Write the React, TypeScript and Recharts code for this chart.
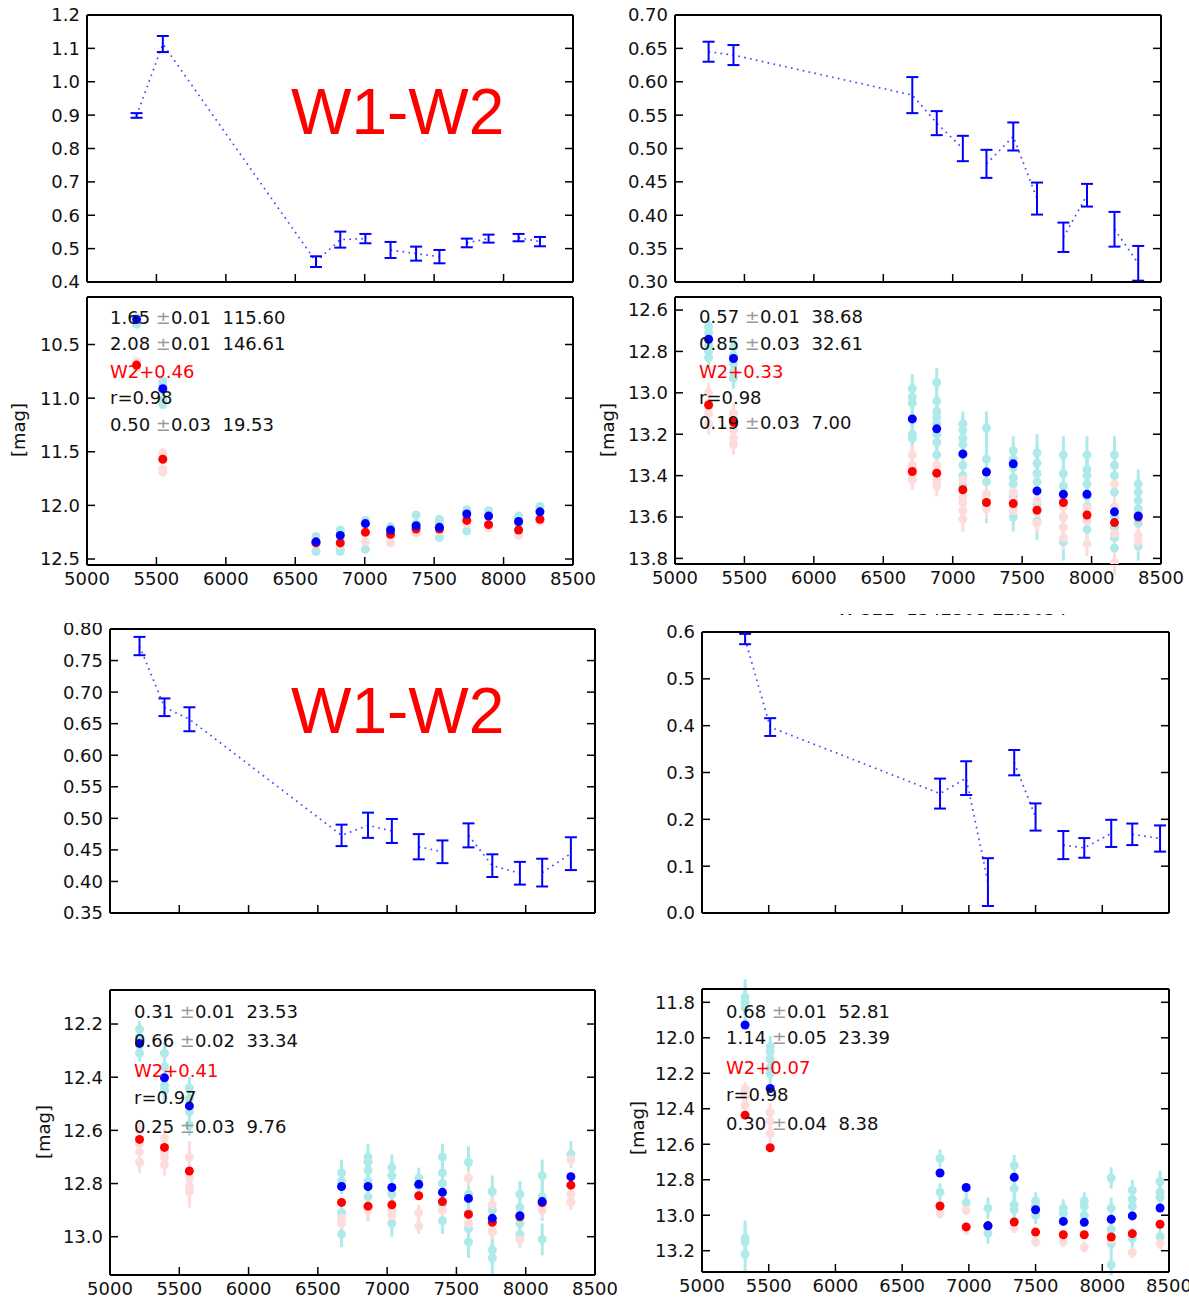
import React from 'react';
import { ComposedChart, Scatter, Line, XAxis, YAxis, ErrorBar } from 'recharts';

const FONT = '"DejaVu Sans", sans-serif';
const CYAN = '#afeaea';
const PINK = '#fddcdc';
const BLUE = '#0000ff';
const RED = '#ff0000';

const xTicks = [5000, 5500, 6000, 6500, 7000, 7500, 8000, 8500];

// upper figure, left column (panels 1 & 2)
const epochsA = [5357, 5546, 6649, 6824, 7005, 7186, 7370, 7538, 7735, 7892, 8108, 8262];
const p1Color = [0.899, 1.113, 0.461, 0.527, 0.53, 0.496, 0.485, 0.476, 0.517, 0.53, 0.533, 0.521];
const p1Err = [0.007, 0.024, 0.016, 0.024, 0.014, 0.024, 0.021, 0.02, 0.013, 0.012, 0.011, 0.014];
const p1Seg = [0, 0, 0, 0, 0, 1, 1, 1, 2, 2, 3, 3];
const p1YTicks = [0.4, 0.5, 0.6, 0.7, 0.8, 0.9, 1.0, 1.1, 1.2];

const p2W1 = [10.267, 10.912, 12.34, 12.28, 12.17, 12.23, 12.19, 12.205, 12.08, 12.1, 12.15, 12.06];
const p2W2 = [10.692, 11.57, 12.35, 12.35, 12.25, 12.27, 12.22, 12.22, 12.14, 12.18, 12.23, 12.13];
const p2W1Pts = [
  [10.25, 10.28, 10.31], [10.84, 10.88, 10.93, 11.02, 11.06], [12.29, 12.32, 12.36, 12.43],
  [12.23, 12.26, 12.41, 12.43], [12.14, 12.16, 12.41], [12.2, 12.23, 12.26], [12.09, 12.17, 12.2],
  [12.13, 12.16, 12.3], [12.04, 12.06, 12.24], [12.05, 12.07, 12.18], [12.1, 12.12, 12.17], [12.01, 12.04],
];
const p2W2Pts = [
  [10.66, 10.7, 10.72], [11.51, 11.55, 11.66, 11.69], [12.33, 12.36], [12.33, 12.37], [12.26, 12.34],
  [12.29, 12.35], [12.24, 12.26], [12.21, 12.24], [12.15, 12.17], [12.19, 12.21], [12.25, 12.28], [12.12, 12.15],
];
const p2W1Err = [0.02, 0.03, 0.03, 0.03, 0.03, 0.02, 0.03, 0.03, 0.03, 0.02, 0.02, 0.02];
const p2W2Err = [0.02, 0.04, 0.03, 0.03, 0.03, 0.03, 0.03, 0.03, 0.02, 0.02, 0.02, 0.02];
const p2YTicks = [10.5, 11.0, 11.5, 12.0, 12.5];
const p2Notes = ['1.65 ±0.01  115.60', '2.08 ±0.01  146.61', 'W2+0.46', 'r=0.98', '0.50 ±0.03  19.53'];

// upper figure, right column (panels 3 & 4)
const epochsB = [5242, 5421, 6709, 6885, 7073, 7243, 7436, 7607, 7797, 7967, 8165, 8336];
const p3Color = [0.645, 0.64, 0.58, 0.538, 0.5, 0.477, 0.518, 0.425, 0.367, 0.43, 0.379, 0.328];
const p3Err = [0.015, 0.015, 0.027, 0.018, 0.019, 0.021, 0.021, 0.024, 0.022, 0.017, 0.026, 0.026];
const p3Seg = [0, 0, 0, 0, 0, 1, 1, 1, 2, 2, 3, 3];
const p3YTicks = [0.3, 0.35, 0.4, 0.45, 0.5, 0.55, 0.6, 0.65, 0.7];

const p4W1 = [12.741, 12.834, 13.126, 13.174, 13.295, 13.383, 13.343, 13.474, 13.49, 13.49, 13.575, 13.595];
const p4W2 = [13.059, 13.142, 13.38, 13.388, 13.468, 13.53, 13.535, 13.567, 13.53, 13.59, 13.627, 13.6];
const p4W1Pts = [
  [12.68, 12.71, 12.74, 12.77, 12.8, 12.83], [12.78, 12.82, 12.86, 12.9, 12.93],
  [12.98, 13.02, 13.05, 13.13, 13.2, 13.22], [12.95, 13.04, 13.09, 13.12, 13.15, 13.2, 13.24, 13.3],
  [13.15, 13.18, 13.22, 13.25, 13.3, 13.35, 13.4, 13.45], [13.17, 13.32, 13.38, 13.43, 13.49, 13.55],
  [13.28, 13.32, 13.36, 13.41, 13.44, 13.5, 13.55, 13.6], [13.29, 13.34, 13.39, 13.43, 13.54, 13.62],
  [13.3, 13.39, 13.45, 13.6, 13.72], [13.3, 13.37, 13.4, 13.44, 13.5, 13.55, 13.66],
  [13.3, 13.35, 13.4, 13.48, 13.6, 13.65, 13.7, 13.75], [13.44, 13.48, 13.52, 13.56, 13.63, 13.74],
];
const p4W2Pts = [
  [13.0, 13.05, 13.1, 13.15], [13.1, 13.14, 13.18, 13.22, 13.25], [13.3, 13.35, 13.4, 13.42],
  [13.35, 13.38, 13.42, 13.45], [13.42, 13.5, 13.53, 13.57, 13.61], [13.49, 13.52, 13.56],
  [13.48, 13.52, 13.57], [13.52, 13.58, 13.63], [13.55, 13.6, 13.65, 13.7], [13.56, 13.62, 13.73],
  [13.44, 13.55, 13.68, 13.82], [13.69, 13.72],
];
const p4W1Err = [0.04, 0.05, 0.07, 0.07, 0.06, 0.08, 0.07, 0.09, 0.09, 0.09, 0.09, 0.07];
const p4W2Err = [0.05, 0.05, 0.05, 0.05, 0.06, 0.05, 0.05, 0.05, 0.06, 0.06, 0.06, 0.05];
const p4YTicks = [12.6, 12.8, 13.0, 13.2, 13.4, 13.6, 13.8];
const p4Notes = ['0.57 ±0.01  38.68', '0.85 ±0.03  32.61', 'W2+0.33', 'r=0.98', '0.19 ±0.03  7.00'];

// lower figure, left column (panels 5 & 7)
const epochsC = [5213, 5393, 5573, 6671, 6862, 7034, 7228, 7399, 7587, 7759, 7958, 8119, 8326];
const p5Color = [0.773, 0.676, 0.657, 0.473, 0.489, 0.48, 0.455, 0.447, 0.473, 0.425, 0.413, 0.414, 0.444];
const p5Err = [0.0145, 0.014, 0.019, 0.017, 0.02, 0.019, 0.02, 0.018, 0.019, 0.018, 0.018, 0.022, 0.026];
const p5Seg = [0, 0, 0, 0, 0, 0, 1, 1, 2, 2, 2, 3, 3];
const p5YTicks = [0.35, 0.4, 0.45, 0.5, 0.55, 0.6, 0.65, 0.7, 0.75, 0.8];

const p7W1 = [12.273, 12.402, 12.508, 12.811, 12.811, 12.815, 12.803, 12.833, 12.856, 12.931, 12.921, 12.868, 12.774];
const p7W2 = [12.634, 12.664, 12.753, 12.871, 12.885, 12.88, 12.846, 12.868, 12.916, 12.946, 12.925, 12.872, 12.806];
const p7W1Pts = [
  [12.22, 12.25, 12.28, 12.31], [12.31, 12.36, 12.43, 12.45], [12.44, 12.48, 12.53, 12.58],
  [12.76, 12.79, 12.91, 12.99], [12.7, 12.72, 12.75, 12.79, 12.85, 12.89], [12.74, 12.77, 12.84, 12.95],
  [12.78, 12.81], [12.7, 12.76, 12.8, 12.88, 12.94], [12.72, 12.84, 12.91, 12.97, 13.02],
  [12.83, 12.9, 12.98, 13.05, 13.08], [12.84, 12.89, 12.95, 12.99], [12.77, 12.85, 12.88, 13.01], [12.69],
];
const p7W2Pts = [
  [12.6, 12.65, 12.68, 12.72], [12.63, 12.68, 12.7, 12.73], [12.7, 12.78, 12.81, 12.83], [12.93, 12.95],
  [12.9], [12.9, 12.92], [12.91, 12.96], [12.9], [12.78, 12.95], [12.88, 12.98], [13.01], [12.9],
  [12.71, 12.84, 12.87],
];
const p7W1Err = [0.03, 0.04, 0.04, 0.05, 0.05, 0.05, 0.04, 0.05, 0.06, 0.06, 0.05, 0.06, 0.05];
const p7W2Err = [0.04, 0.04, 0.06, 0.03, 0.03, 0.03, 0.03, 0.03, 0.03, 0.03, 0.03, 0.03, 0.03];
const p7YTicks = [12.2, 12.4, 12.6, 12.8, 13.0];
const p7Notes = ['0.31 ±0.01  23.53', '0.66 ±0.02  33.34', 'W2+0.41', 'r=0.97', '0.25 ±0.03  9.76'];

// lower figure, right column (panels 6 & 8)
const epochsD = [5323, 5511, 6784, 6980, 7143, 7340, 7500, 7708, 7865, 8067, 8225, 8433];
const p6Color = [0.585, 0.397, 0.255, 0.288, 0.066, 0.321, 0.205, 0.145, 0.139, 0.17, 0.168, 0.159];
const p6Err = [0.011, 0.019, 0.032, 0.036, 0.051, 0.027, 0.029, 0.03, 0.021, 0.029, 0.023, 0.028];
const p6Seg = [0, 0, 0, 0, 0, 1, 1, 2, 2, 2, 3, 3];
const p6YTicks = [0.0, 0.1, 0.2, 0.3, 0.4, 0.5, 0.6];

const p8W1 = [11.928, 12.286, 12.762, 12.844, 13.06, 12.786, 12.969, 13.035, 13.04, 13.023, 13.004, 12.959];
const p8W2 = [12.436, 12.62, 12.948, 13.066, 13.06, 13.038, 13.095, 13.11, 13.11, 13.123, 13.104, 13.051];
const p8W1Pts = [
  [11.77, 11.8, 11.83, 13.13, 13.15, 13.22], [12.05, 12.08, 12.12, 12.17, 12.2], [12.68, 12.87], [12.93],
  [12.96, 13.1], [12.72, 12.85, 12.94, 12.97], [12.92, 12.95, 13.0], [12.96, 12.99], [12.92, 12.95, 13.0],
  [12.79, 12.96, 13.08, 13.16, 13.28], [12.86, 12.91, 12.95, 13.13], [12.81, 12.87, 12.9, 13.12],
];
const p8W2Pts = [
  [12.29, 12.33, 12.38], [12.42, 12.47, 12.54], [12.99], [12.97, 13.08], [13.06], [13.07], [13.15],
  [13.15], [13.18], [13.14], [13.21], [13.16],
];
const p8W1Err = [0.1, 0.06, 0.05, 0.06, 0.06, 0.06, 0.05, 0.05, 0.05, 0.06, 0.06, 0.06];
const p8W2Err = [0.04, 0.05, 0.03, 0.03, 0.03, 0.03, 0.03, 0.03, 0.03, 0.03, 0.03, 0.03];
const p8YTicks = [11.8, 12.0, 12.2, 12.4, 12.6, 12.8, 13.0, 13.2];
const p8Notes = ['0.68 ±0.01  52.81', '1.14 ±0.05  23.39', 'W2+0.07', 'r=0.98', '0.30 ±0.04  8.38'];

type Pt = { x: number; y: number; e: number };

const toPoints = (xs: number[], ys: number[], errs?: number[]): Pt[] =>
  xs.map((x, i) => ({ x, y: ys[i], e: errs ? errs[i] : 0 }));

const explode = (xs: number[], pts: number[][], errs: number[]): Pt[] =>
  xs.flatMap((x, i) => pts[i].map((y) => ({ x, y, e: errs[i] })));

const splitSegments = (xs: number[], ys: number[], seg: number[]) => {
  const out: { x: number; y: number }[][] = [];
  xs.forEach((x, i) => {
    if (!out[seg[i]]) out[seg[i]] = [];
    out[seg[i]].push({ x, y: ys[i] });
  });
  return out;
};

const dot = (r: number, fill: string) => (p: any) => <circle cx={p.cx} cy={p.cy} r={r} fill={fill} />;
// empty tick label: keeps the tick marks, drops the text
const noLabel = () => <g />;

const colorMarks = (xs: number[], ys: number[], errs: number[], seg: number[]) => [
  ...splitSegments(xs, ys, seg).map((d, i) => (
    <Line
      key={`seg-${i}`}
      data={d}
      dataKey="y"
      type="linear"
      stroke="#4a4aff"
      strokeWidth={1.7}
      strokeDasharray="1.7 4.3"
      dot={false}
      activeDot={false}
      isAnimationActive={false}
    />
  )),
  <Scatter key="bars" data={toPoints(xs, ys, errs)} shape={() => <g />} isAnimationActive={false}>
    <ErrorBar dataKey="e" direction="y" width={6} stroke={BLUE} strokeWidth={2} />
  </Scatter>,
];

const magMarks = (
  xs: number[], w1: number[], w2: number[], w1Pts: number[][], w2Pts: number[][], w1Err: number[], w2Err: number[]
) => [
  <Scatter key="w1i" data={explode(xs, w1Pts, w1Err)} shape={dot(4.5, CYAN)} isAnimationActive={false}>
    <ErrorBar dataKey="e" direction="y" width={0} stroke={CYAN} strokeWidth={3} />
  </Scatter>,
  <Scatter key="w2i" data={explode(xs, w2Pts, w2Err)} shape={dot(4.5, PINK)} isAnimationActive={false}>
    <ErrorBar dataKey="e" direction="y" width={0} stroke={PINK} strokeWidth={3} />
  </Scatter>,
  <Scatter key="w2m" data={toPoints(xs, w2)} shape={dot(4.5, RED)} isAnimationActive={false} />,
  <Scatter key="w1m" data={toPoints(xs, w1)} shape={dot(4.5, BLUE)} isAnimationActive={false} />,
];

const PADL = 90;
const PADR = 30;
const PADT = 10;
const PADB = 40;

function Panel({
  box, yDomain, yTicks, digits, reversed = false, xLabels, children,
}: {
  box: [number, number, number, number];
  yDomain: [number, number];
  yTicks: number[];
  digits: number;
  reversed?: boolean;
  xLabels: boolean;
  children: React.ReactNode;
}) {
  const [x0, y0, x1, y1] = box;
  const tickStyle = { fill: '#111', fontSize: 18, fontFamily: FONT };
  const axisLine = { stroke: '#000', strokeWidth: 2 };
  const tickLine = { stroke: '#000', strokeWidth: 1.5 };
  const w = x1 - x0;
  const h = y1 - y0;
  return (
    <div style={{ position: 'absolute', left: x0 - PADL, top: y0 - PADT }}>
      <ComposedChart
        width={w + PADL + PADR}
        height={h + PADT + PADB}
        margin={{ top: PADT - 1, right: PADR - 1, left: 0, bottom: 0 }}
      >
        <XAxis
          dataKey="x" type="number" domain={[5000, 8500]} ticks={xTicks} interval={0} allowDataOverflow
          height={PADB} tickSize={-8} tickMargin={15} tick={xLabels ? tickStyle : noLabel}
          axisLine={axisLine} tickLine={tickLine}
        />
        <XAxis
          xAxisId="top" orientation="top" type="number" domain={[5000, 8500]} ticks={xTicks} interval={0}
          allowDataOverflow height={1} tickSize={-8} tick={noLabel} axisLine={axisLine} tickLine={tickLine}
        />
        <YAxis
          dataKey="y" type="number" domain={yDomain} ticks={yTicks} interval={0} reversed={reversed} allowDataOverflow
          width={PADL} tickSize={-8} tickMargin={15} tickFormatter={(v: number) => v.toFixed(digits)}
          tick={tickStyle} axisLine={axisLine} tickLine={tickLine}
        />
        <YAxis
          yAxisId="right" orientation="right" type="number" domain={yDomain} ticks={yTicks} interval={0}
          allowDataOverflow reversed={reversed} width={1} tickSize={-8} tick={noLabel} axisLine={axisLine}
          tickLine={tickLine}
        />
        {children}
      </ComposedChart>
    </div>
  );
}

function Notes({ left, centers, lines }: { left: number; centers: number[]; lines: string[] }) {
  return (
    <>
      {lines.map((t, i) => {
        const parts = t.split('±');
        return (
          <div
            key={i}
            style={{
              position: 'absolute', left, top: centers[i] - 11, fontFamily: FONT, fontSize: 18,
              lineHeight: '22px', whiteSpace: 'pre', color: i === 2 ? RED : '#111',
            }}
          >
            {parts[0]}
            {parts.length > 1 && <span style={{ color: '#9a9a9a' }}>±</span>}
            {parts[1]}
          </div>
        );
      })}
    </>
  );
}

function MagLabel({ cx, cy }: { cx: number; cy: number }) {
  return (
    <div
      style={{
        position: 'absolute', left: cx - 30, top: cy - 11, width: 60, textAlign: 'center',
        fontFamily: FONT, fontSize: 18, lineHeight: '22px', color: '#111', transform: 'rotate(-90deg)',
      }}
    >
      [mag]
    </div>
  );
}

function BigLabel({ left, top }: { left: number; top: number }) {
  return (
    <div
      style={{
        position: 'absolute', left, top, fontFamily: '"Liberation Sans", Arial, sans-serif',
        fontSize: 64, lineHeight: '64px', color: RED, whiteSpace: 'pre',
      }}
    >
      W1-W2
    </div>
  );
}

export default function App() {
  return (
    <div
      style={{
        position: 'absolute', left: 0, top: 0, width: 1189, height: 1303, overflow: 'hidden', background: '#fff',
      }}
    >
      {/* upper figure */}
      <div style={{ position: 'absolute', left: 0, top: 0, width: 1189, height: 610 }}>
        <Panel box={[87, 15, 573, 282]} yDomain={[0.4, 1.2]} yTicks={p1YTicks} digits={1} xLabels={false}>
          {colorMarks(epochsA, p1Color, p1Err, p1Seg)}
        </Panel>
        <BigLabel left={291} top={80} />
        <Panel box={[87, 297, 573, 565]} yDomain={[10.057, 12.556]} yTicks={p2YTicks} digits={1} reversed xLabels>
          {magMarks(epochsA, p2W1, p2W2, p2W1Pts, p2W2Pts, p2W1Err, p2W2Err)}
        </Panel>
        <MagLabel cx={19} cy={430} />
        <Notes left={110} centers={[318, 344, 372, 398, 425]} lines={p2Notes} />

        <Panel box={[675, 15, 1161, 282]} yDomain={[0.3, 0.7]} yTicks={p3YTicks} digits={2} xLabels={false}>
          {colorMarks(epochsB, p3Color, p3Err, p3Seg)}
        </Panel>
        <Panel box={[675, 297, 1161, 564]} yDomain={[12.537, 13.827]} yTicks={p4YTicks} digits={1} reversed xLabels>
          {magMarks(epochsB, p4W1, p4W2, p4W1Pts, p4W2Pts, p4W1Err, p4W2Err)}
        </Panel>
        <MagLabel cx={608} cy={430} />
        <Notes left={699} centers={[317, 344, 372, 398, 423]} lines={p4Notes} />
      </div>

      {/* lower figure, left */}
      <div style={{ position: 'absolute', left: 0, top: 623, width: 640, height: 680, overflow: 'hidden' }}>
        <Panel box={[110, 6, 595, 290]} yDomain={[0.35, 0.8]} yTicks={p5YTicks} digits={2} xLabels={false}>
          {colorMarks(epochsC, p5Color, p5Err, p5Seg)}
        </Panel>
        <BigLabel left={291} top={56} />
        <Panel box={[110, 367, 595, 652]} yDomain={[12.072, 13.144]} yTicks={p7YTicks} digits={1} reversed xLabels>
          {magMarks(epochsC, p7W1, p7W2, p7W1Pts, p7W2Pts, p7W1Err, p7W2Err)}
        </Panel>
        <MagLabel cx={44} cy={509} />
        <Notes left={134} centers={[389, 418, 448, 475, 504]} lines={p7Notes} />
      </div>

      {/* lower figure, right */}
      <div style={{ position: 'absolute', left: 600, top: 614, width: 589, height: 689, overflow: 'hidden' }}>
        <div
          style={{
            position: 'absolute', left: 237, top: -16, width: 200, textAlign: 'center', whiteSpace: 'pre',
            fontFamily: FONT, fontSize: 18, lineHeight: '22px', color: '#111',
          }}
        >
          W 321  1342308 22:3034
        </div>
        <Panel box={[102, 18, 569, 299]} yDomain={[0, 0.6]} yTicks={p6YTicks} digits={1} xLabels={false}>
          {colorMarks(epochsD, p6Color, p6Err, p6Seg)}
        </Panel>
        <Panel box={[102, 375, 569, 658]} yDomain={[11.725, 13.32]} yTicks={p8YTicks} digits={1} reversed xLabels>
          {magMarks(epochsD, p8W1, p8W2, p8W1Pts, p8W2Pts, p8W1Err, p8W2Err)}
        </Panel>
        <MagLabel cx={38} cy={514} />
        <Notes left={126} centers={[398, 424, 454, 481, 510]} lines={p8Notes} />
      </div>
    </div>
  );
}
